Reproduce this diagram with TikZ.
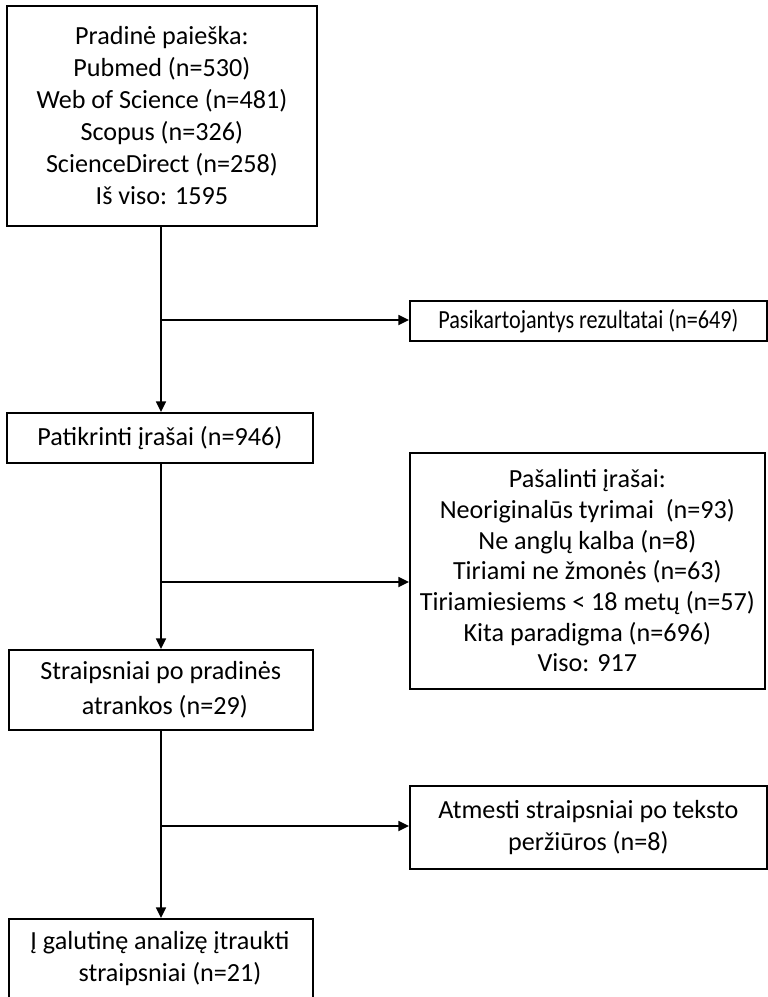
\documentclass[tikz,border=0pt]{standalone}
\usepackage{fontspec}
\setmainfont{Carlito}
\usetikzlibrary{arrows.meta}
\begin{document}
\begin{tikzpicture}[x=0.75pt,y=-0.75pt,
  box/.style={draw,line width=1.3pt,rectangle,anchor=north west,inner sep=0pt,align=center,
    font=\fontsize{19.6}{24}\selectfont},
  txt/.style={font=\fontsize{19.6}{24}\selectfont,align=center},
  arr/.style={line width=1.3pt,-{Triangle[length=8pt,width=7.5pt]}}]
\useasboundingbox (0,0) rectangle (768,997);
\clip (0,0) rectangle (768,997);
\node[box,minimum width=310*0.75pt,minimum height=220*0.75pt] (b1) at (6,5)
  {Pradinė paieška:\\Pubmed (n=530)\\Web of Science (n=481)\\Scopus (n=326)\\ScienceDirect (n=258)\\Iš viso: 1595};
\node[box,minimum width=357*0.75pt,minimum height=40*0.75pt] (b2) at (409,300)
  {\scalebox{0.85}[1]{Pasikartojantys rezultatai (n=649)}};
\node[box,minimum width=306*0.75pt,minimum height=50*0.75pt] (b3) at (6,412)
  {Patikrinti įrašai (n=946)};
\node[box,minimum width=355*0.75pt,minimum height=236*0.75pt,font=\fontsize{19.6}{23}\selectfont] (b4) at (409,452)
  {Pašalinti įrašai:\\Neoriginalūs tyrimai\ \ (n=93)\\Ne anglų kalba (n=8)\\Tiriami ne žmonės (n=63)\\Tiriamiesiems < 18 metų (n=57)\\Kita paradigma (n=696)\\Viso: 917};
\node[box,minimum width=304*0.75pt,minimum height=80*0.75pt,font=\fontsize{19.6}{26}\selectfont] (b5) at (8,649)
  {Straipsniai po pradinės\\\hspace*{6pt}atrankos (n=29)};
\node[box,minimum width=357*0.75pt,minimum height=83*0.75pt] (b6) at (409,785)
  {Atmesti straipsniai po teksto\\peržiūros (n=8)};
\node[box,minimum width=304*0.75pt,minimum height=100*0.75pt] (b7) at (8,918)
  {};
\node[txt,anchor=north] (t7) at (160,927)
  {Į galutinę analizę įtraukti\\\hspace*{15pt}straipsniai (n=21)};
\coordinate (j1) at (161,320);
\coordinate (j2) at (161,582);
\coordinate (j3) at (161,826);
\draw[arr] (b1.south -| j1) -- (b3.north -| j1);
\draw[arr] (b3.south -| j1) -- (b5.north -| j1);
\draw[arr] (b5.south -| j1) -- (b7.north -| j1);
\draw[arr] (j1) -- (j1 -| b2.west);
\draw[arr] (j2) -- (j2 -| b4.west);
\draw[arr] (j3) -- (j3 -| b6.west);
\end{tikzpicture}
\end{document}
